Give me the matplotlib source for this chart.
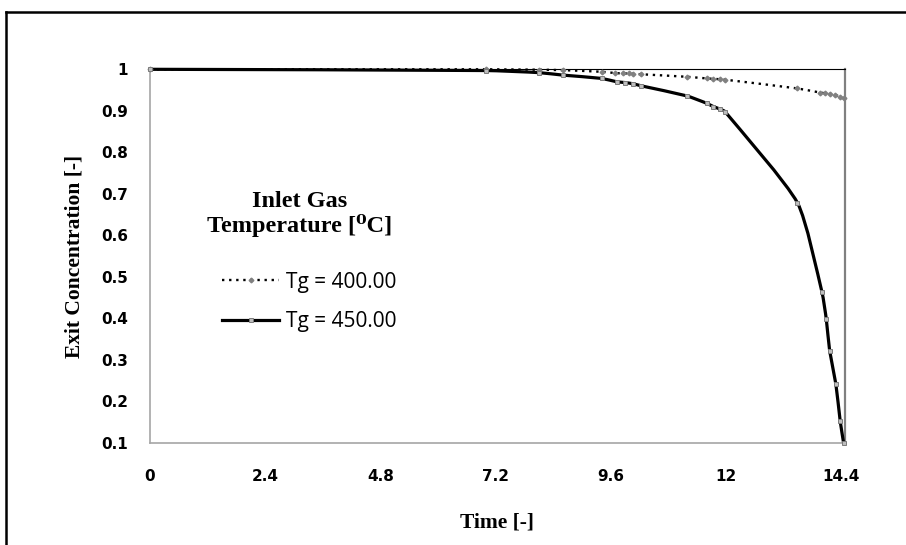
import matplotlib
matplotlib.use('Agg')
import matplotlib.pyplot as plt
from matplotlib.path import Path
from matplotlib.patches import PathPatch
from matplotlib.lines import Line2D
import numpy as np

# ---------------- data ----------------
time_400 = [0, 7.0, 8.1, 8.6, 9.41, 9.69, 9.86, 9.97, 10.07, 10.24, 11.18, 11.6,
            11.74, 11.88, 11.98, 13.48, 13.96, 14.07, 14.17, 14.27, 14.38, 14.45]
conc_400 = [1.0, 1.0, 0.999, 0.998, 0.994, 0.991, 0.990, 0.990, 0.989, 0.988, 0.982, 0.978,
            0.977, 0.976, 0.975, 0.954, 0.944, 0.942, 0.940, 0.938, 0.934, 0.930]

time_450 = [0, 7.0, 8.1, 8.6, 9.41, 9.72, 9.90, 10.07, 10.24, 11.18, 11.6, 11.74,
            11.88, 11.98, 13.49, 14.0, 14.09, 14.16, 14.29, 14.38, 14.45]
conc_450 = [1.0, 0.997, 0.992, 0.986, 0.978, 0.970, 0.968, 0.965, 0.960, 0.936, 0.918, 0.910,
            0.904, 0.898, 0.678, 0.463, 0.398, 0.322, 0.241, 0.152, 0.1]

x_ticks = [0, 2.4, 4.8, 7.2, 9.6, 12, 14.4]
x_tick_labels = ['0', '2.4', '4.8', '7.2', '9.6', '12', '14.4']
y_ticks = [0.1, 0.2, 0.3, 0.4, 0.5, 0.6, 0.7, 0.8, 0.9, 1.0]
y_tick_labels = ['0.1', '0.2', '0.3', '0.4', '0.5', '0.6', '0.7', '0.8', '0.9', '1']
series_labels = ['Tg = 400.00', 'Tg = 450.00']
legend_title = 'Inlet Gas\nTemperature [\u2070C]'
x_label = 'Time [-]'
y_label = 'Exit Concentration [-]'

SERIF = ['Liberation Serif', 'DejaVu Serif']

W, H = 906, 545
fig = plt.figure(figsize=(W / 100, H / 100), dpi=100)
ax = fig.add_axes([150 / W, 1 - 442.7 / H, (845 - 150) / W, (442.7 - 69.3) / H])
ax.set_xlim(0, 14.48)
ax.set_ylim(0.1, 1.0)


def smooth_path(x, y, k=0.2):
    """Excel-like smoothed curve built as cubic Bezier segments."""
    trans = ax.transData
    pts = trans.transform(np.column_stack([x, y]).astype(float))
    n = len(pts)
    tang = []
    for i in range(n):
        a = pts[i - 1] if i > 0 else pts[i]
        b = pts[i + 1] if i < n - 1 else pts[i]
        d = b - a
        nrm = np.hypot(*d)
        tang.append(d / nrm if nrm > 0 else d)
    verts = [pts[0]]
    codes = [Path.MOVETO]
    for i in range(n - 1):
        seg = np.hypot(*(pts[i + 1] - pts[i])) * k
        c1 = pts[i] + tang[i] * seg
        c2 = pts[i + 1] - tang[i + 1] * seg
        verts += [c1, c2, pts[i + 1]]
        codes += [Path.CURVE4] * 3
    verts = trans.inverted().transform(np.array(verts))
    return Path(verts, codes)


p400 = PathPatch(smooth_path(time_400, conc_400), fill=False, edgecolor='black',
                 lw=1.7, linestyle=(0, (1, 2.0)), capstyle='butt', zorder=3,
                 transform=ax.transData, clip_on=False)
p450 = PathPatch(smooth_path(time_450, conc_450), fill=False, edgecolor='black',
                 lw=2.3, capstyle='butt', joinstyle='round', zorder=4,
                 transform=ax.transData, clip_on=False)
ax.add_patch(p400)
ax.add_patch(p450)

ax.plot(time_400, conc_400, ls='none', marker='D', ms=2.4, mfc='#808080', mec='#808080',
        zorder=5, clip_on=False)
ax.plot(time_450, conc_450, ls='none', marker='s', ms=2.6, mfc='#bdbdbd', mec='#7a7a7a',
        mew=0.7, zorder=6, clip_on=False)

ax.set_xticks(x_ticks)
ax.set_xticklabels(x_tick_labels)
ax.set_yticks(y_ticks)
ax.set_yticklabels(y_tick_labels)
ax.tick_params(axis='both', length=0, labelsize=11)
ax.tick_params(axis='x', pad=19)
ax.tick_params(axis='y', pad=16)
for lab in ax.get_xticklabels() + ax.get_yticklabels():
    lab.set_fontweight('bold')
    lab.set_family('DejaVu Sans')

for side in ['left', 'bottom']:
    ax.spines[side].set_color('#a6a6a6')
    ax.spines[side].set_linewidth(1.2)
ax.spines['right'].set_color('#808080')
ax.spines['right'].set_linewidth(1.6)
ax.spines['top'].set_color('black')
ax.spines['top'].set_linewidth(0.8)

ax.set_xlabel(x_label, fontsize=15.5, fontweight='bold', family=SERIF)
ax.xaxis.set_label_coords(0.5, -(512 - 442.7) / (442.7 - 69.3))
ax.set_ylabel(y_label, fontsize=15.5, fontweight='bold', family=SERIF)
ax.yaxis.set_label_coords((84 - 150) / (845 - 150), 0.5)

# legend
handles = [
    Line2D([], [], color='black', lw=1.7, ls=(0, (1, 2.0)), marker='D', ms=2.4,
           mfc='#808080', mec='#808080'),
    Line2D([], [], color='black', lw=2.3, marker='s', ms=2.6, mfc='#bdbdbd',
           mec='#7a7a7a', mew=0.7),
]
leg = fig.legend(handles, series_labels, loc='center left',
                 bbox_to_anchor=(212 / W, 1 - 302 / H), frameon=False,
                 borderpad=0, handlelength=2.7, handletextpad=0.35,
                 labelspacing=0.9, prop={'family': 'Open Sans', 'size': 15})

fig.text(300 / W, 1 - 214 / H, legend_title, ha='center', va='center',
         fontsize=17.5, fontweight='bold', family=SERIF, linespacing=1.12)

# outer frame (left and top visible)
fig.add_artist(Line2D([5.5 / W, 5.5 / W], [-0.05, 1 - 12 / H], transform=fig.transFigure,
                      color='black', lw=1.8))
fig.add_artist(Line2D([5.5 / W, 1.05], [1 - 12 / H, 1 - 12 / H], transform=fig.transFigure,
                      color='black', lw=1.8))

fig.savefig('out.png', dpi=100)
